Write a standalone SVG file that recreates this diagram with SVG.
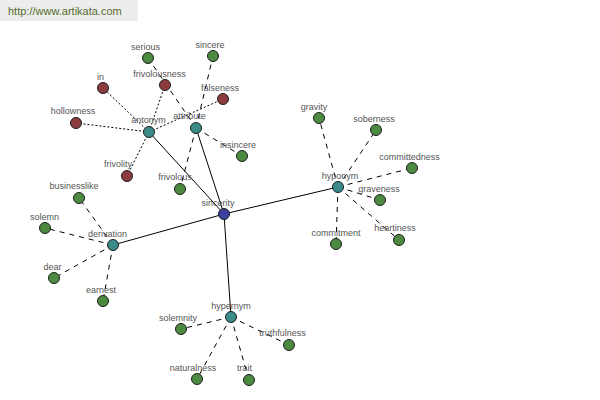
<svg xmlns="http://www.w3.org/2000/svg" width="600" height="400" viewBox="0 0 600 400">
<style>
.bg{fill:#ffffff}
.wm{fill:#ededed}
.wmt{font-family:"Liberation Sans",Arial,sans-serif;font-size:11px;fill:#566b2e}
.s{stroke:#000;stroke-width:1;fill:none}
.d{stroke:#000;stroke-width:1;fill:none;stroke-dasharray:5,5}
.o{stroke:#000;stroke-width:1;fill:none;stroke-dasharray:2,2}
circle{stroke:#1e1e1e;stroke-width:1}
.root{fill:#3c3f9e}
.rel{fill:#3b8b8b}
.red{fill:#8c3c3c}
.grn{fill:#4b8a40}
text.l{font-family:"Liberation Sans",Arial,sans-serif;font-size:9px;fill:#555555;text-anchor:middle}
</style>
<rect class="bg" x="0" y="0" width="600" height="400"/>
<rect class="wm" x="0" y="0" width="138" height="21"/>
<text class="wmt" x="8" y="15">http://www.artikata.com</text>
<g id="connectors">
<line class="s" x1="224" y1="214" x2="149" y2="132"/>
<line class="s" x1="224" y1="214" x2="196" y2="128"/>
<line class="s" x1="224" y1="214" x2="338" y2="187"/>
<line class="s" x1="224" y1="214" x2="113" y2="245"/>
<line class="s" x1="224" y1="214" x2="231" y2="317"/>
<line class="o" x1="149" y1="132" x2="103" y2="88"/>
<line class="o" x1="149" y1="132" x2="165" y2="85"/>
<line class="o" x1="149" y1="132" x2="76" y2="123"/>
<line class="o" x1="149" y1="132" x2="127" y2="176"/>
<line class="o" x1="149" y1="132" x2="223" y2="99"/>
<line class="d" x1="196" y1="128" x2="148" y2="58"/>
<line class="d" x1="196" y1="128" x2="213" y2="56"/>
<line class="d" x1="196" y1="128" x2="242" y2="156"/>
<line class="d" x1="196" y1="128" x2="180" y2="189"/>
<line class="d" x1="338" y1="187" x2="319" y2="118"/>
<line class="d" x1="338" y1="187" x2="376" y2="130"/>
<line class="d" x1="338" y1="187" x2="412" y2="168"/>
<line class="d" x1="338" y1="187" x2="380" y2="200"/>
<line class="d" x1="338" y1="187" x2="399" y2="240"/>
<line class="d" x1="338" y1="187" x2="336" y2="244"/>
<line class="d" x1="113" y1="245" x2="79" y2="198"/>
<line class="d" x1="113" y1="245" x2="45" y2="228"/>
<line class="d" x1="113" y1="245" x2="54" y2="278"/>
<line class="d" x1="113" y1="245" x2="103" y2="301"/>
<line class="d" x1="231" y1="317" x2="181" y2="329"/>
<line class="d" x1="231" y1="317" x2="289" y2="345"/>
<line class="d" x1="231" y1="317" x2="197" y2="379"/>
<line class="d" x1="231" y1="317" x2="249" y2="380"/>
</g>
<g id="n-sincerity"><circle class="root" cx="224" cy="214" r="5.5"/><text class="l" x="218" y="206">sincerity</text></g>
<g id="n-antonym"><circle class="rel" cx="149" cy="132" r="5.5"/><text class="l" x="148.5" y="123">antonym</text></g>
<g id="n-attribute"><circle class="rel" cx="196" cy="128" r="5.5"/><text class="l" x="189.5" y="119">attribute</text></g>
<g id="n-hyponym"><circle class="rel" cx="338" cy="187" r="5.5"/><text class="l" x="340" y="179">hyponym</text></g>
<g id="n-derivation"><circle class="rel" cx="113" cy="245" r="5.5"/><text class="l" x="107.5" y="237">derivation</text></g>
<g id="n-hypernym"><circle class="rel" cx="231" cy="317" r="5.5"/><text class="l" x="231" y="309">hypernym</text></g>
<g id="n-in"><circle class="red" cx="103" cy="88" r="5.5"/><text class="l" x="100.5" y="80">in</text></g>
<g id="n-frivolousness"><circle class="red" cx="165" cy="85" r="5.5"/><text class="l" x="159.5" y="77">frivolousness</text></g>
<g id="n-hollowness"><circle class="red" cx="76" cy="123" r="5.5"/><text class="l" x="73" y="114">hollowness</text></g>
<g id="n-frivolity"><circle class="red" cx="127" cy="176" r="5.5"/><text class="l" x="118" y="167">frivolity</text></g>
<g id="n-falseness"><circle class="red" cx="223" cy="99" r="5.5"/><text class="l" x="220" y="91">falseness</text></g>
<g id="n-serious"><circle class="grn" cx="148" cy="58" r="5.5"/><text class="l" x="145.5" y="50">serious</text></g>
<g id="n-sincere"><circle class="grn" cx="213" cy="56" r="5.5"/><text class="l" x="210" y="48">sincere</text></g>
<g id="n-insincere"><circle class="grn" cx="242" cy="156" r="5.5"/><text class="l" x="238" y="148">insincere</text></g>
<g id="n-frivolous"><circle class="grn" cx="180" cy="189" r="5.5"/><text class="l" x="175" y="180">frivolous</text></g>
<g id="n-gravity"><circle class="grn" cx="319" cy="118" r="5.5"/><text class="l" x="314" y="110">gravity</text></g>
<g id="n-soberness"><circle class="grn" cx="376" cy="130" r="5.5"/><text class="l" x="374" y="122">soberness</text></g>
<g id="n-committedness"><circle class="grn" cx="412" cy="168" r="5.5"/><text class="l" x="409.5" y="160">committedness</text></g>
<g id="n-graveness"><circle class="grn" cx="380" cy="200" r="5.5"/><text class="l" x="379" y="192">graveness</text></g>
<g id="n-heartiness"><circle class="grn" cx="399" cy="240" r="5.5"/><text class="l" x="395" y="231">heartiness</text></g>
<g id="n-commitment"><circle class="grn" cx="336" cy="244" r="5.5"/><text class="l" x="336" y="236">commitment</text></g>
<g id="n-businesslike"><circle class="grn" cx="79" cy="198" r="5.5"/><text class="l" x="74" y="189">businesslike</text></g>
<g id="n-solemn"><circle class="grn" cx="45" cy="228" r="5.5"/><text class="l" x="44.5" y="220">solemn</text></g>
<g id="n-dear"><circle class="grn" cx="54" cy="278" r="5.5"/><text class="l" x="52.5" y="270">dear</text></g>
<g id="n-earnest"><circle class="grn" cx="103" cy="301" r="5.5"/><text class="l" x="101" y="293">earnest</text></g>
<g id="n-solemnity"><circle class="grn" cx="181" cy="329" r="5.5"/><text class="l" x="178" y="321">solemnity</text></g>
<g id="n-truthfulness"><circle class="grn" cx="289" cy="345" r="5.5"/><text class="l" x="282.5" y="336">truthfulness</text></g>
<g id="n-naturalness"><circle class="grn" cx="197" cy="379" r="5.5"/><text class="l" x="193" y="371">naturalness</text></g>
<g id="n-trait"><circle class="grn" cx="249" cy="380" r="5.5"/><text class="l" x="244.5" y="371">trait</text></g>
</svg>
